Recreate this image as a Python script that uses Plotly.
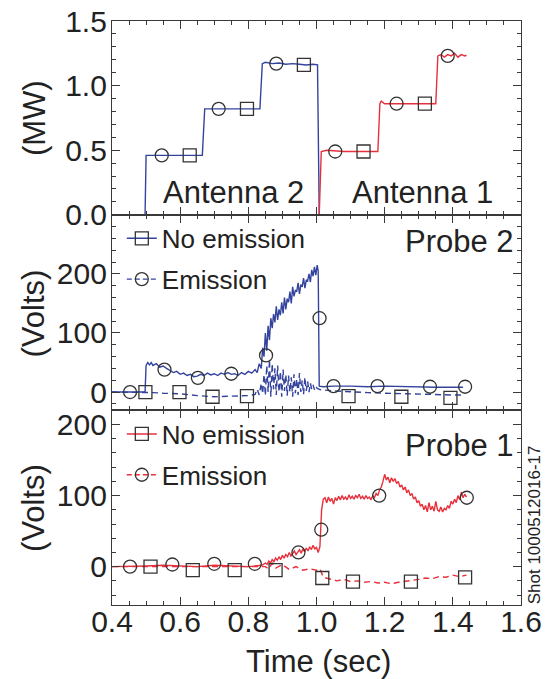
import plotly.graph_objects as go
from plotly.subplots import make_subplots

# ---------------- data ----------------
# Top panel: RF power (MW)
ant2_t = [0.40, 0.497, 0.500, 0.52, 0.56, 0.60, 0.64, 0.665, 0.672, 0.68, 0.72, 0.76, 0.80, 0.834, 0.841,
          0.85, 0.87, 0.89, 0.91, 0.93, 0.95, 0.97, 0.99, 1.003, 1.008]
ant2_mw = [0.0, 0.0, 0.46, 0.46, 0.46, 0.465, 0.46, 0.46, 0.82, 0.82, 0.815, 0.82, 0.82, 0.82, 1.17,
           1.18, 1.17, 1.175, 1.165, 1.17, 1.165, 1.16, 1.165, 1.16, 0.0]
ant1_t = [1.008, 1.014, 1.03, 1.08, 1.13, 1.18, 1.186, 1.19, 1.20, 1.25, 1.30, 1.35, 1.356, 1.365,
          1.375, 1.385, 1.395, 1.405, 1.415, 1.425, 1.435, 1.44]
ant1_mw = [0.0, 0.49, 0.50, 0.49, 0.49, 0.49, 0.86, 0.88, 0.86, 0.86, 0.86, 0.86, 1.23, 1.24,
           1.22, 1.24, 1.23, 1.25, 1.22, 1.24, 1.23, 1.235]
top_circle_t = [0.546, 0.713, 0.882, 1.055, 1.235, 1.385]
top_circle_v = [0.46, 0.82, 1.17, 0.49, 0.86, 1.23]
top_square_t = [0.628, 0.796, 0.963, 1.138, 1.318]
top_square_v = [0.46, 0.82, 1.16, 0.49, 0.86]

# Middle panel: Probe 2 (Volts)
p2_solid_t = [0.40, 0.45, 0.497, 0.500, 0.505, 0.51, 0.515, 0.52, 0.53, 0.54, 0.55, 0.56, 0.57, 0.58, 0.59,
              0.60, 0.61, 0.62, 0.63, 0.64, 0.65, 0.66, 0.67, 0.68, 0.69, 0.70, 0.71, 0.72, 0.73, 0.74,
              0.75, 0.76, 0.77, 0.78, 0.79, 0.80, 0.81, 0.82, 0.826, 0.832, 0.838, 0.842, 0.846, 0.850,
              0.854, 0.858, 0.862, 0.866, 0.870, 0.874, 0.878, 0.882, 0.886, 0.890, 0.894, 0.898, 0.902,
              0.906, 0.910, 0.914, 0.918, 0.922, 0.926, 0.930, 0.934, 0.938, 0.942, 0.946, 0.950, 0.954,
              0.958, 0.962, 0.966, 0.970, 0.974, 0.978, 0.982, 0.986, 0.990, 0.994, 0.998, 1.002, 1.005,
              1.008, 1.02, 1.05, 1.10, 1.15, 1.20, 1.25, 1.30, 1.35, 1.40, 1.43]
p2_solid_v = [0, 0, 0, 45, 50, 46, 50, 45, 48, 42, 44, 40, 36, 33, 35,
              30, 32, 28, 30, 26, 27, 30, 28, 32, 29, 31, 28, 32, 30, 33,
              30, 31, 28, 33, 30, 35, 32, 38, 33, 48, 40, 75, 60, 100,
              70, 112, 88, 125, 108, 132, 118, 145, 122, 140, 130, 152, 133,
              160, 140, 158, 152, 170, 150, 178, 162, 172, 170, 185, 166, 182,
              178, 193, 176, 190, 188, 200, 186, 207, 196, 212, 198, 215, 205,
              10, 9, 10, 10, 9, 10, 9, 9, 8, 8, 8]
p2_dash_t = [0.40, 0.50, 0.52, 0.55, 0.60, 0.65, 0.70, 0.75, 0.80, 0.82, 0.826, 0.832, 0.838, 0.842,
             0.846, 0.850, 0.854, 0.858, 0.862, 0.866, 0.870, 0.874, 0.878, 0.882, 0.886, 0.890, 0.894,
             0.898, 0.902, 0.906, 0.910, 0.914, 0.918, 0.922, 0.926, 0.930, 0.934, 0.938, 0.942, 0.946,
             0.950, 0.954, 0.958, 0.962, 0.966, 0.970, 0.974, 0.978, 0.982, 0.986, 0.990, 0.994, 0.998,
             1.002, 1.01, 1.05, 1.10, 1.15, 1.20, 1.25, 1.30, 1.35, 1.40, 1.43]
p2_dash_v = [0, 0, -1, -2, -3, -6, -8, -7, -6, -4, 5, -5, 15, -3,
             30, -6, 45, 0, 55, -8, 48, 5, 40, -5, 45, 0, 35,
             -8, 38, 2, 30, -6, 28, 0, 25, -8, 30, -2, 22, -5,
             32, 0, 20, -4, 25, 2, 18, 0, 15, 5, 12, 4, 10,
             6, 4, 2, 0, -1, -2, -3, -3, -4, -5, -5]
p2_circle_t = [0.453, 0.554, 0.652, 0.750, 0.852, 1.009, 1.050, 1.179, 1.333, 1.436]
p2_circle_v = [0, 38, 24, 31, 62, 125, 10, 10, 9, 9]
p2_square_t = [0.498, 0.598, 0.695, 0.796, 1.094, 1.249, 1.393]
p2_square_v = [0, 0, -8, -7, -7, -8, -10]

# Bottom panel: Probe 1 (Volts)
p1_solid_t = [0.40, 0.45, 0.50, 0.55, 0.60, 0.65, 0.70, 0.75, 0.80, 0.84, 0.850, 0.855, 0.860, 0.865,
              0.870, 0.875, 0.880, 0.885, 0.890, 0.895, 0.900, 0.905, 0.910, 0.915, 0.920, 0.925,
              0.930, 0.935, 0.940, 0.945, 0.950, 0.955, 0.960, 0.965, 0.970, 0.975, 0.980, 0.985,
              0.990, 0.995, 1.000, 1.005, 1.010, 1.015, 1.020, 1.025, 1.030, 1.035, 1.040, 1.045,
              1.050, 1.055, 1.060, 1.065, 1.070, 1.075, 1.080, 1.085, 1.090, 1.095, 1.100, 1.105,
              1.110, 1.115, 1.120, 1.125, 1.130, 1.135, 1.140, 1.145, 1.150, 1.155, 1.160, 1.165,
              1.170, 1.175, 1.180, 1.185, 1.190, 1.195, 1.200, 1.205, 1.210, 1.215, 1.220, 1.225,
              1.230, 1.235, 1.240, 1.245, 1.250, 1.255, 1.260, 1.265, 1.270, 1.275, 1.280, 1.285,
              1.290, 1.295, 1.300, 1.305, 1.310, 1.315, 1.320, 1.325, 1.330, 1.335, 1.340, 1.345,
              1.350, 1.355, 1.360, 1.365, 1.370, 1.375, 1.380, 1.385, 1.390, 1.395, 1.400, 1.405,
              1.410, 1.415, 1.420, 1.425, 1.430, 1.435, 1.440]
p1_solid_v = [0, 0, 1, 2, 1, 0, 2, 1, 0, 2, 5, 3, 8, 5,
              10, 7, 12, 9, 14, 10, 16, 12, 17, 14, 20, 15,
              18, 22, 17, 20, 24, 19, 25, 21, 26, 22, 28, 24,
              30, 25, 27, 20, 28, 80, 95, 97, 90, 98, 92, 96,
              88, 97, 93, 99, 94, 100, 95, 98, 94, 101, 96, 99,
              95, 100, 97, 102, 96, 99, 95, 100, 96, 98, 94, 100,
              97, 103, 100, 108, 112, 120, 130, 122, 126, 118, 125, 120,
              124, 117, 120, 112, 115, 108, 112, 104, 108, 100, 103, 95,
              98, 90, 93, 85, 88, 80, 86, 77, 90, 80, 85, 78,
              92, 80, 78, 84, 77, 82, 80, 86, 82, 92, 88, 95,
              90, 100, 94, 105, 97, 102, 98]
p1_dash_t = [0.40, 0.50, 0.60, 0.70, 0.80, 0.85, 0.86, 0.87, 0.88, 0.90, 0.92, 0.94, 0.96, 0.98, 1.00,
             1.01, 1.02, 1.04, 1.06, 1.08, 1.10, 1.12, 1.14, 1.16, 1.18, 1.20, 1.22, 1.24, 1.26, 1.28,
             1.30, 1.32, 1.34, 1.36, 1.38, 1.40, 1.42, 1.44]
p1_dash_v = [0, 0, 0, 0, 0, 0, -3, 5, -2, 3, -4, 0, -5, -3, -5,
             -3, -15, -18, -20, -18, -21, -20, -22, -21, -23, -22, -24, -22, -21, -20,
             -18, -16, -17, -14, -15, -12, -14, -12]
p1_circle_t = [0.453, 0.577, 0.700, 0.819, 0.947, 1.014, 1.184, 1.441]
p1_circle_v = [0, 3, 4, 4, 20, 52, 100, 97]
p1_square_t = [0.513, 0.637, 0.760, 0.880, 1.017, 1.107, 1.277, 1.436]
p1_square_v = [0, -5, -5, -5, -16, -21, -21, -15]

x_ticks = [0.4, 0.6, 0.8, 1.0, 1.2, 1.4, 1.6]

# ---------------- styling ----------------
BLUE = "#34449e"
RED = "#e8303c"
MK = "#333333"
AX = "#3a3a3a"
FONT = "Liberation Sans"

fig = make_subplots(rows=3, cols=1, shared_xaxes=False, vertical_spacing=0)

def line(t, v, color, row, dash="solid"):
    fig.add_trace(go.Scatter(x=t, y=v, mode="lines", showlegend=False,
                             line=dict(color=color, width=1.4, dash=dash)), row=row, col=1)

def marks(t, v, symbol, row):
    fig.add_trace(go.Scatter(x=t, y=v, mode="markers", showlegend=False,
                             marker=dict(symbol=symbol, size=13, color=MK,
                                         line=dict(color=MK, width=1.3))), row=row, col=1)

# top panel
line(ant2_t, ant2_mw, BLUE, 1)
line(ant1_t, ant1_mw, RED, 1)
marks(top_circle_t, top_circle_v, "circle-open", 1)
marks(top_square_t, top_square_v, "square-open", 1)

# middle panel
line(p2_dash_t, p2_dash_v, BLUE, 2, dash="6px,4px")
line(p2_solid_t, p2_solid_v, BLUE, 2)
marks(p2_circle_t, p2_circle_v, "circle-open", 2)
marks(p2_square_t, p2_square_v, "square-open", 2)

# bottom panel
line(p1_dash_t, p1_dash_v, RED, 3, dash="6px,4px")
line(p1_solid_t, p1_solid_v, RED, 3)
marks(p1_circle_t, p1_circle_v, "circle-open", 3)
marks(p1_square_t, p1_square_v, "square-open", 3)

# legend entries
def leg(name, color, dash, symbol, legend, group):
    fig.add_trace(go.Scatter(x=[None], y=[None], mode="lines+markers", name=name,
                             legend=legend, legendgroup=group,
                             line=dict(color=color, width=1.4, dash=dash),
                             marker=dict(symbol=symbol, size=13, color=MK,
                                         line=dict(color=MK, width=1.3))), row=2, col=1)

leg("No emission", BLUE, "solid", "square-open", "legend", "a")
leg("Emission", BLUE, "5px,3px", "circle-open", "legend", "b")
leg("No emission", RED, "solid", "square-open", "legend2", "c")
leg("Emission", RED, "5px,3px", "circle-open", "legend2", "d")

common_x = dict(range=[0.4, 1.6], showline=True, linecolor=AX, linewidth=1.2, mirror="ticks",
                ticks="inside", ticklen=8, tickwidth=1.1, tickcolor=AX, tickvals=x_ticks,
                minor=dict(dtick=0.05, ticks="inside", ticklen=4, tickcolor=AX),
                showgrid=False, zeroline=False, automargin=False,
                tickfont=dict(family=FONT, size=30, color="#222"))
fig.update_xaxes(**common_x)
fig.update_xaxes(showticklabels=False, row=1, col=1)
fig.update_xaxes(showticklabels=False, row=2, col=1)
fig.update_xaxes(showticklabels=True, tickformat=".1f", ticklabelstandoff=-10, row=3, col=1)

common_y = dict(showline=True, linecolor=AX, linewidth=1.2, mirror="ticks",
                ticks="inside", ticklen=8, tickwidth=1.1, tickcolor=AX,
                showgrid=False, zeroline=False, ticklabelstandoff=-2, automargin=False,
                tickfont=dict(family=FONT, size=30, color="#222"))
fig.update_yaxes(**common_y)
fig.update_yaxes(range=[0, 1.5], tickvals=[0, 0.5, 1.0, 1.5], tickformat=".1f",
                 minor=dict(dtick=0.1, ticks="inside", ticklen=4, tickcolor=AX),
                 domain=[0.6681, 1.0], row=1, col=1)
fig.update_yaxes(range=[-31, 300], tickvals=[0, 100, 200],
                 minor=dict(dtick=20, ticks="inside", ticklen=4, tickcolor=AX),
                 domain=[0.3333, 0.6681], row=2, col=1)
fig.update_yaxes(range=[-54, 220], tickvals=[0, 100, 200],
                 minor=dict(dtick=20, ticks="inside", ticklen=4, tickcolor=AX),
                 domain=[0.0, 0.3333], row=3, col=1)

tfont = dict(family=FONT, size=31, color="#222")
annotations = [
    dict(text="(MW)", x=-0.188, y=0.834, textangle=-90),
    dict(text="(Volts)", x=-0.192, y=0.50, textangle=-90),
    dict(text="(Volts)", x=-0.192, y=0.167, textangle=-90),
    dict(text="Time (sec)", x=0.505, y=-0.096),
    dict(text="Antenna 2", x=0.297, y=0.706),
    dict(text="Antenna 1", x=0.758, y=0.706),
    dict(text="Probe 2", x=0.988, y=0.622, xanchor="right"),
    dict(text="Probe 1", x=0.988, y=0.273, xanchor="right"),
]
for a in annotations:
    a.setdefault("xanchor", "center")
    fig.add_annotation(xref="paper", yref="paper", showarrow=False, yanchor="middle",
                       font=tfont, **a)
fig.add_annotation(xref="paper", yref="paper", showarrow=False, text="Shot 1000512016-17",
                   x=1.034, y=0.138, textangle=-90, xanchor="center", yanchor="middle",
                   font=dict(family=FONT, size=17, color="#222"))

legfont = dict(family=FONT, size=26, color="#222")
fig.update_layout(
    width=551, height=679,
    margin=dict(l=112, r=30, t=21, b=73.5, autoexpand=False),
    paper_bgcolor="white", plot_bgcolor="white",
    legend=dict(x=0.024, y=0.668, xanchor="left", yanchor="top", bgcolor="rgba(0,0,0,0)",
                font=legfont, tracegroupgap=4, traceorder="grouped", itemwidth=30),
    legend2=dict(x=0.024, y=0.333, xanchor="left", yanchor="top", bgcolor="rgba(0,0,0,0)",
                 font=legfont, tracegroupgap=4, traceorder="grouped", itemwidth=30),
    font=dict(family=FONT),
)

fig.write_html("out.html", config={"displayModeBar": False},
               post_script="document.body.style.margin='0px';")
